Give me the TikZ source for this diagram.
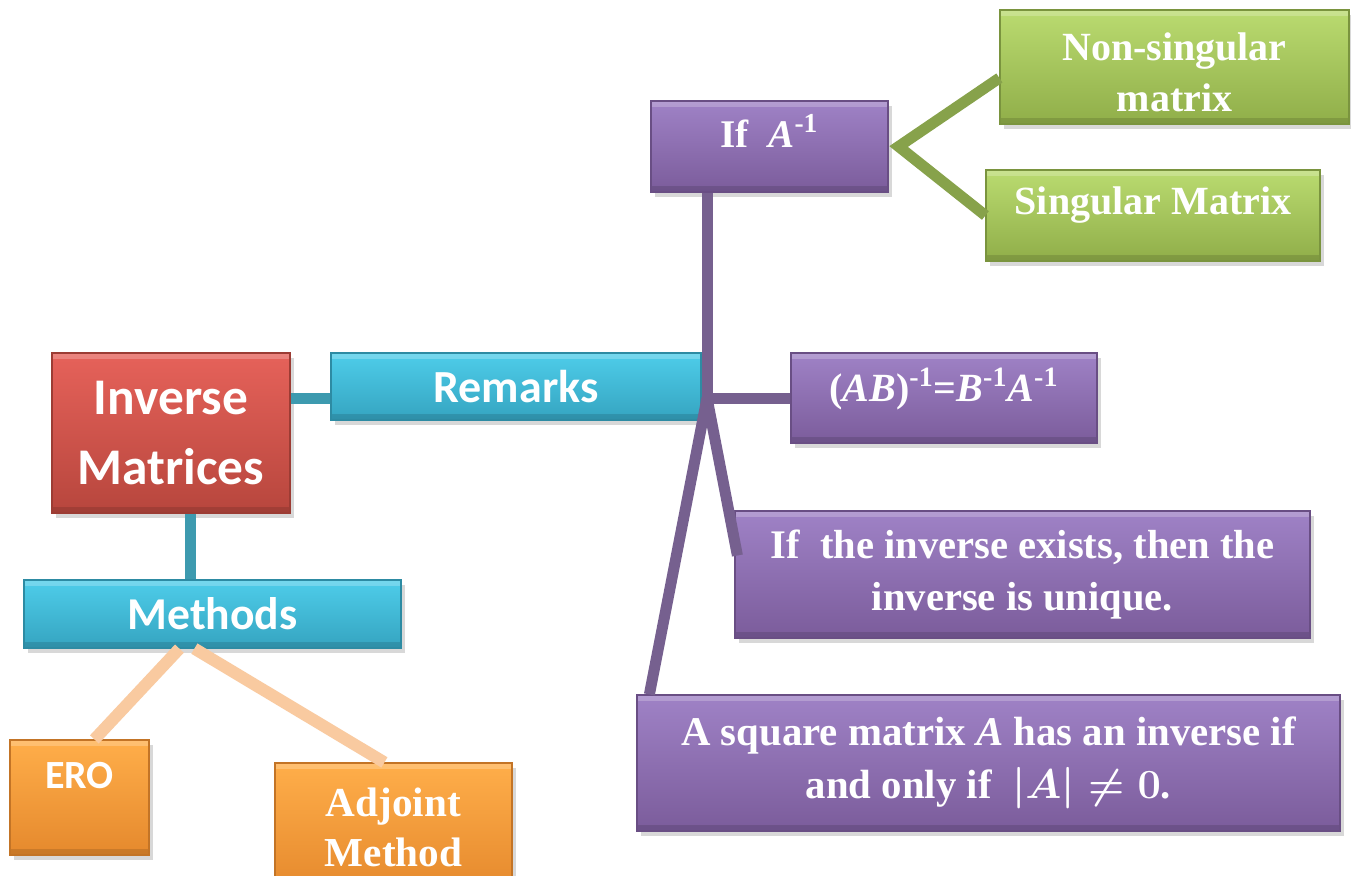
\documentclass[tikz,border=0pt]{standalone}
\usepackage{fontspec}
\setmainfont{Liberation Serif}
\newfontfamily\calfont{Carlito}
\usetikzlibrary{calc,shadows}

\definecolor{redtop}{HTML}{E6625A}
\definecolor{redbot}{HTML}{B7463D}
\definecolor{cyantop}{HTML}{4ECDEA}
\definecolor{cyanbot}{HTML}{35A4C0}
\definecolor{purptop}{HTML}{9F82C6}
\definecolor{purpbot}{HTML}{7B5C9B}
\definecolor{greentop}{HTML}{BADB70}
\definecolor{greenbot}{HTML}{90AE49}
\definecolor{orngtop}{HTML}{FFAE4A}
\definecolor{orngbot}{HTML}{E5892D}
\definecolor{tealln}{HTML}{3D9AAF}
\definecolor{purpln}{HTML}{76608F}
\definecolor{greenln}{HTML}{87A24B}
\definecolor{peachln}{HTML}{F9CAA0}

\tikzset{
  % concept box: shaded fill, white bold text, soft shadow, light bevel
  cbox/.style={rectangle, inner sep=0pt, align=center, text=white, line width=0.6pt,
               drop shadow={shadow xshift=2pt, shadow yshift=-2.5pt, opacity=0.3},
               path picture={
                 \fill[white, opacity=0.22] (path picture bounding box.north west)
                   rectangle ([yshift=-3pt]path picture bounding box.north east);
                 \fill[black, opacity=0.12] (path picture bounding box.south west)
                   rectangle ([yshift=3pt]path picture bounding box.south east);
               }},
  redbox/.style={cbox, top color=redtop, bottom color=redbot, draw=redbot!85!black},
  cyanbox/.style={cbox, top color=cyantop, bottom color=cyanbot, draw=cyanbot!85!black},
  purpbox/.style={cbox, top color=purptop, bottom color=purpbot, draw=purpbot!85!black},
  greenbox/.style={cbox, top color=greentop, bottom color=greenbot, draw=greenbot!85!black},
  orngbox/.style={cbox, top color=orngtop, bottom color=orngbot, draw=orngbot!85!black},
  % fonts: size and baseline skip
  calib/.style 2 args={font=\calfont\bfseries\fontsize{#1}{#2}\selectfont},
  tnr/.style 2 args={font=\bfseries\fontsize{#1}{#2}\selectfont},
  % thick connectors
  link/.style={line width=5.5pt},
  teallink/.style={link, draw=tealln},
  purplink/.style={link, draw=purpln},
  greenlink/.style={link, draw=greenln, line join=miter},
  peachlink/.style={link, draw=peachln, line width=6pt}
}

\begin{document}
\begin{tikzpicture}[x=0.5pt, y=-0.5pt]
\clip (0,0) rectangle (1351,875);
\fill[white] (0,0) rectangle (1351,875);

% ---- root and its two branches ----
\node[redbox, calib={25.7}{35}, minimum width=119pt, minimum height=80pt] (inv) at (171,433) {Inverse\\Matrices};
\node[cyanbox, calib={23}{26}, minimum width=185pt, minimum height=33.5pt] (remarks) at (516,386.5) {Remarks};
\node[cyanbox, calib={22.8}{26}, minimum width=188.5pt, minimum height=34pt] (methods) at (212.5,614) {Methods};

% ---- methods ----
\node[orngbox, calib={20}{25}, minimum width=69.5pt, minimum height=57.5pt, text depth=22pt] (ero) at (79.5,797.5) {ERO};
\node[orngbox, tnr={20.6}{25}, minimum width=118.5pt, minimum height=64pt] (adj) at (393.5,827) {Adjoint\\Method};

% ---- remarks ----
\node[purpbox, tnr={19.6}{26}, minimum width=118.5pt, minimum height=45.5pt, text depth=16pt] (ifinv) at (769.5,146.5) {If\ \ \textit{A}\textsuperscript{-1}};
\node[greenbox, tnr={20}{25.5}, minimum width=174.5pt, minimum height=57pt, text height=44pt, text depth=0pt] (nonsing) at (1174.5,67) {Non-singular\\matrix};
\node[greenbox, tnr={20}{25.5}, minimum width=167pt, minimum height=45.5pt, text depth=15pt] (sing) at (1153,215.5) {Singular Matrix};
\node[purpbox, tnr={20}{25}, minimum width=153pt, minimum height=45pt, text depth=13pt] (prod) at (944,398)
  {(\textit{AB})\textsuperscript{-1}=\textit{B}\textsuperscript{-1}\textit{A}\textsuperscript{-1}};
\node[purpbox, tnr={20.3}{26}, minimum width=287.5pt, minimum height=63.5pt] (unique) at (1022.5,574.5)
  {If\ \ the inverse exists, then the\\inverse is unique.};
\node[purpbox, tnr={20.4}{26.5}, minimum width=351.5pt, minimum height=68pt] (square) at (988.5,763)
  {A square matrix \textit{A} has an inverse if\\and only if\ \ {\boldmath$|A| \neq 0$}.};

% ---- connectors ----
\coordinate (hub) at (707,398);
\coordinate (drop) at ($(inv.south)+(19,0)$);
\draw[teallink] (inv.east |- hub) -- (remarks.west |- hub);
\draw[teallink] (drop) -- (drop |- methods.north);

\draw[peachlink] ($(methods.south west)+(156,0)$) -- ($(ero.north west)+(85,0)$);
\draw[peachlink] ($(methods.south west)+(171,0)$) -- ($(adj.north west)+(110,0)$);

\draw[purplink] (ifinv.south -| hub) -- (hub) -- (prod.west);
\draw[purplink] (hub) -- ($(unique.west)+(3,-19)$);
\draw[purplink] (hub) -- ($(square.north west)+(13,0)$);

\draw[greenlink] ($(nonsing.west)+(0,11)$) -- ($(ifinv.east)+(10,0)$) -- (sing.west);

\end{tikzpicture}
\end{document}
